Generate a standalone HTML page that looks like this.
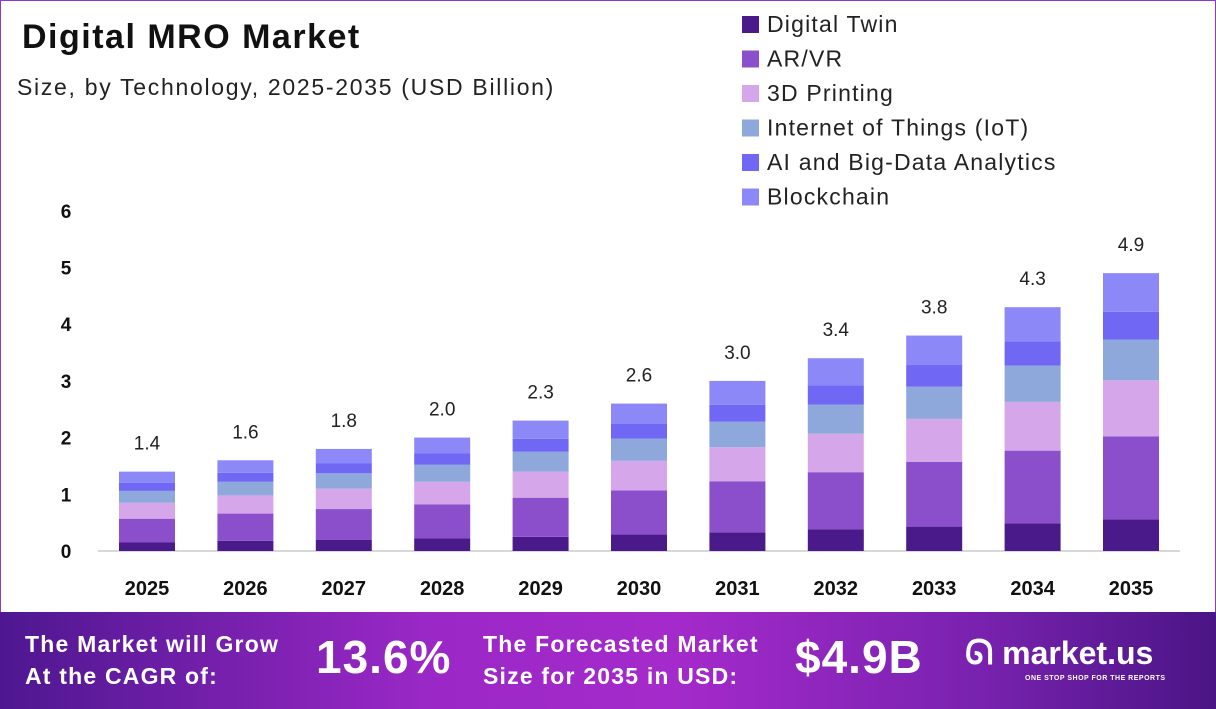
<!DOCTYPE html>
<html><head><meta charset="utf-8"><style>
body{margin:0;width:1216px;height:709px;overflow:hidden;font-family:"Liberation Sans",sans-serif;background:#fff}
#wrap{position:absolute;left:0;top:0;width:1214px;height:612px;border:1px solid #8a3cc0;border-bottom:none}
#footer{position:absolute;left:0;top:612px;width:1216px;height:97px;background:linear-gradient(90deg,#4e1790 0%,#9a28c6 35%,#a52acb 55%,#7a22b0 80%,#4a1585 100%);color:#fff;font-weight:bold}
.ft{position:absolute;font-size:23px;line-height:32px;letter-spacing:1.2px}
.big{position:absolute;font-size:46px;top:18px;letter-spacing:1px}
</style></head><body>
<div id="wrap"></div>
<svg id="chart" width="1216" height="612" style="position:absolute;left:0;top:0">
<text x="22" y="48" font-size="34" font-weight="bold" fill="#111" letter-spacing="1.5">Digital MRO Market</text>
<text x="17" y="95" font-size="23" fill="#222" letter-spacing="1.7">Size, by Technology, 2025-2035 (USD Billion)</text>
<g id="yaxis"></g><g id="bars"></g><g id="legend"></g>
</svg>
<div id="footer">
<div class="ft" style="left:25px;top:16px">The Market will Grow<br>At the CAGR of:</div>
<div class="big" style="left:316px">13.6%</div>
<div class="ft" style="left:483px;top:16px">The Forecasted Market<br>Size for 2035 in USD:</div>
<div class="big" style="left:795px">$4.9B</div>
<div style="position:absolute;left:965px;top:22px;font-size:34px">ᘏ<span style="font-size:32px"> market.us</span></div>
<div style="position:absolute;left:1025px;top:63px;font-size:7px;letter-spacing:0.5px">ONE STOP SHOP FOR THE REPORTS</div>
</div>
<script>
const years=["2025","2026","2027","2028","2029","2030","2031","2032","2033","2034","2035"];
const totals=[1.4,1.6,1.8,2.0,2.3,2.6,3.0,3.4,3.8,4.3,4.9];
const digitalTwin=[0.15,0.18,0.20,0.22,0.25,0.29,0.33,0.38,0.43,0.49,0.56];
const arVr=[0.42,0.48,0.54,0.60,0.69,0.78,0.90,1.01,1.14,1.28,1.46];
const printing3d=[0.28,0.32,0.36,0.40,0.46,0.52,0.60,0.68,0.76,0.86,0.99];
const iot=[0.21,0.24,0.27,0.30,0.35,0.39,0.45,0.51,0.57,0.64,0.72];
const aiData=[0.14,0.16,0.18,0.20,0.23,0.26,0.30,0.34,0.38,0.43,0.49];
const blockchain=[0.20,0.22,0.25,0.28,0.32,0.36,0.42,0.48,0.52,0.60,0.68];
const seriesNames=["Digital Twin","AR/VR","3D Printing","Internet of Things (IoT)","AI and Big-Data Analytics","Blockchain"];
const yTicks=[0,1,2,3,4,5,6];
const series=[digitalTwin,arVr,printing3d,iot,aiData,blockchain];
const colors=["#4b1a8a","#8b4fcc","#d6a6ea","#8fa8dc","#7068f5","#8c88f8"];
const NS="http://www.w3.org/2000/svg";
const y=v=>551-v*56.7, x=i=>147+i*98.4, bw=56;
function el(t,a,p){const e=document.createElementNS(NS,t);for(const k in a)e.setAttribute(k,a[k]);p.appendChild(e);return e;}
const ya=document.getElementById('yaxis');
yTicks.forEach(t=>{const e=el('text',{x:66,y:y(t)+7,'font-size':19,'font-weight':'bold','text-anchor':'middle',fill:'#111'},ya);e.textContent=t;

});
const base=el('line',{x1:98,x2:1180,y1:551,y2:551,stroke:'#ccc','stroke-width':1.5},ya);


const bg=document.getElementById('bars');
years.forEach((yr,i)=>{let acc=0;
series.forEach((s,k)=>{const r=el('rect',{x:x(i)-bw/2,y:y(acc+s[i]),width:bw,height:s[i]*56.7,fill:colors[k]},bg);acc+=s[i];

});
const lt=el('text',{x:x(i),y:y(acc)-22,'font-size':19,'text-anchor':'middle',fill:'#222'},bg);lt.textContent=totals[i].toFixed(1);


const xt=el('text',{x:x(i),y:595,'font-size':20,'font-weight':'bold','text-anchor':'middle',fill:'#111'},bg);xt.textContent=yr;

});
const lg=document.getElementById('legend');
seriesNames.forEach((n,k)=>{const g=el('g',{},lg);


el('rect',{x:742,y:16+k*34.5,width:17,height:17,fill:colors[k]},g);
const t=el('text',{x:767,y:32+k*34.5,'font-size':23,fill:'#222','letter-spacing':1.2},g);t.textContent=n;});
</script>
</body></html>
